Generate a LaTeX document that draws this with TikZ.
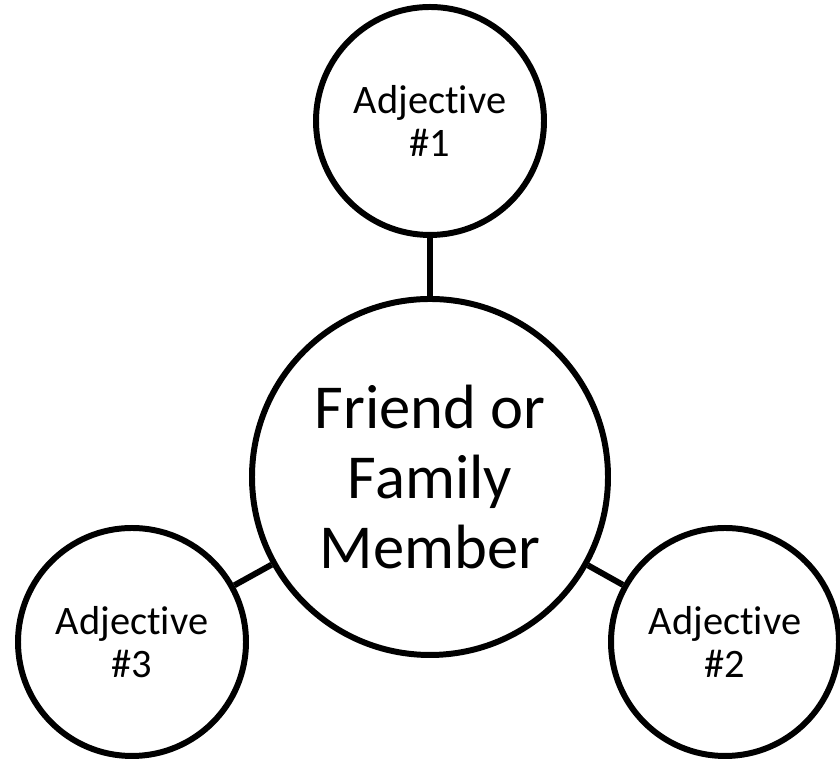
\documentclass[tikz,border=0pt]{standalone}
\usepackage{fontspec}
\setmainfont{Carlito}[Ligatures={NoCommon}]
\usepackage{tikz}
\usetikzlibrary{positioning}

\begin{document}
\begin{tikzpicture}[line width=1.7pt,
  bubble/.style={draw, circle, minimum size=2.28cm, inner sep=0pt,
    align=center, font=\fontsize{11.5}{12.4}\selectfont},
  hub/.style={draw, circle, minimum size=3.56cm, inner sep=0pt,
    align=center, font=\fontsize{17.8}{19.9}\selectfont}]

\useasboundingbox (0,0) rectangle (8.40,7.63);

% --- centre ---
\node[hub] (person) at (4.30, 2.86) {Friend or\\Family\\Member};

% --- adjectives ---
\node[bubble] (adj1) at (4.30, 6.42) {Adjective\\\#1};
\node[bubble] (adj2) at (7.25, 1.21) {Adjective\\\#2};
\node[bubble] (adj3) at (1.32, 1.21) {Adjective\\\#3};

% Spokes
\draw (person) -- (adj1);
\draw (person) -- (adj2);
\draw (person) -- (adj3);

\end{tikzpicture}
\end{document}
